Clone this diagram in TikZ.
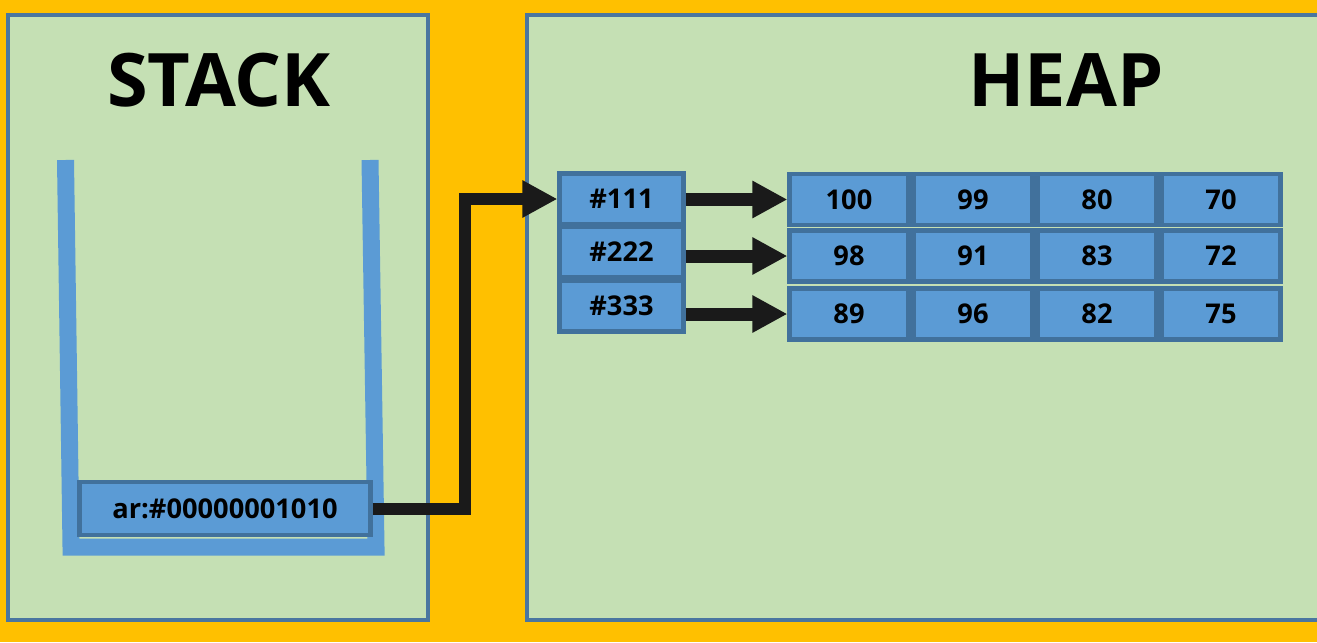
\documentclass[tikz,border=0pt]{standalone}
\usepackage{fontspec}
\setmainfont{Open Sans}
\usetikzlibrary{arrows.meta,positioning}

\definecolor{bgorange}{HTML}{FFC000}
\definecolor{panelgreen}{HTML}{C5E0B4}
\definecolor{panelline}{HTML}{4A76A0}
\definecolor{cellblue}{HTML}{5B9BD5}
\definecolor{cellline}{HTML}{41719C}
\definecolor{linkblack}{HTML}{1A1A1A}

\tikzset{
  panel/.style={fill=panelgreen, draw=panelline, line width=2pt},
  title/.style={inner sep=0pt, font=\fontsize{42}{46}\selectfont\bfseries},
  cell/.style={draw=cellline, fill=cellblue, line width=2.4pt, inner sep=0pt,
    minimum height=1.02cm, font=\fontsize{15.5}{18}\selectfont\bfseries},
  addrcell/.style={cell, minimum width=2.48cm},
  valcell/.style={cell, minimum width=2.38cm},
  link/.style={draw=linkblack, line width=0.24cm, -{Triangle[length=0.7cm,width=0.7cm]}},
  ptr/.style={draw=linkblack, line width=0.26cm, -{Triangle[length=0.7cm,width=0.7cm]}}
}

\begin{document}
\begin{tikzpicture}[x=0.02cm, y=-0.02cm]
    \useasboundingbox (0,0) rectangle (1317,642);
    \clip (0,0) rectangle (1317,642);
    \fill[bgorange] (0,0) rectangle (1317,642);

    % Stack side
    \draw[panel] (8,15) rectangle (428,620);
    \node[title] (stacktitle) at (219,80) {STACK};
    \draw[cellblue, line width=0.34cm] (65.5,160) -- (71,547) -- (376,547) -- (370,160);
    \node[cell, minimum width=5.82cm, minimum height=1.06cm] (ar) at (225,508.5) {ar:\#00000001010};

    % Heap side
    \draw[panel] (527,15) rectangle (1340,620);
    \node[title] (heaptitle) at (1066,80) {HEAP};

    \node[addrcell] (addr1) at (621.5,199) {\#111};
    \node[addrcell] (addr2) at (621.5,252) {\#222};
    \node[addrcell] (addr3) at (621.5,306) {\#333};

    \foreach \r/\y/\vals in {1/199.5/{100,99,80,70}, 2/256/{98,91,83,72}, 3/314/{89,96,82,75}} {
        \foreach \v [count=\i] in \vals
            \node[valcell] (v\r\i) at (787+124*\i-62,\y) {\v};
        \draw[ptr] (v\r1.west -| addr\r.east) -- (v\r1.west);
    }

    % reference from stack to heap
    \coordinate (riser) at (465,350);
    \draw[link] (ar.east) -| (riser) |- (addr1.west);
\end{tikzpicture}
\end{document}
